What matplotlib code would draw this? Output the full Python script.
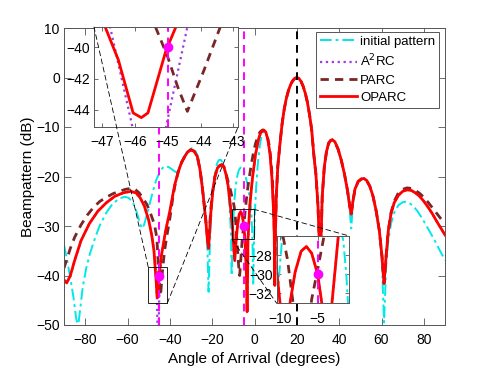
import matplotlib
matplotlib.use('Agg')
from matplotlib import pyplot as plt
from matplotlib.patches import Rectangle, ConnectionPatch

plt.rcParams['font.family'] = ['Liberation Sans', 'DejaVu Sans']
plt.rcParams['font.size'] = 10

# --- data: (angle in degrees, level in dB) ---
initial_pts = [
    (-90, -33.8), (-88.5, -37), (-87, -40.5), (-85.5, -44.5), (-84.3, -48.5), (-83.4, -50.5),
    (-82.4, -47), (-81.2, -42.5), (-79.5, -38.5), (-77.7, -35.5), (-75, -32), (-73, -29.8),
    (-70, -27.3), (-67, -25.5), (-64, -24.5), (-61.5, -24.1), (-59.5, -24.3), (-57.5, -25.2),
    (-55.8, -27), (-54.3, -29.2), (-53.2, -30.5), (-52.2, -29.8), (-51, -28), (-49.5, -25.5),
    (-48, -23), (-46.5, -20.8), (-45, -19.3), (-43.5, -18.3), (-42.2, -17.9), (-40.5, -18.1),
    (-38.5, -18.7), (-37.2, -19.1), (-36.3, -19.0), (-35, -17.8), (-33.5, -16.2), (-32, -15.1),
    (-30.8, -14.5), (-29.6, -14.3), (-28.3, -14.6), (-27, -15.6), (-25.8, -17.8), (-24.7, -21.2),
    (-23.7, -25.5), (-22.8, -30.5), (-22.2, -35.5), (-21.7, -43.3), (-21.2, -35.5), (-20.6, -29),
    (-19.8, -24), (-18.8, -19.8), (-17.8, -17.5), (-16.9, -16.7), (-16, -16.6), (-15, -17.2),
    (-14, -18.6), (-13, -20.8), (-12.2, -23.8), (-11.5, -28), (-11.1, -32), (-10.8, -40),
    (-10.4, -33), (-9.7, -26), (-9, -22.3), (-8.2, -20), (-7.4, -18.7), (-6.6, -18.2),
    (-5.8, -18.3), (-5, -18.9), (-4.2, -20), (-3.4, -21.5), (-2.6, -23.5), (-2, -25),
    (-1.6, -26.5), (-1.2, -30), (-0.9, -34), (-0.6, -42), (-0.3, -34), (0.1, -28), (0.8, -22),
    (1.6, -17.2), (2.5, -13.8), (3.4, -11.6), (4.3, -10.8), (5.3, -11.1), (6.3, -12.6),
    (7.3, -15.3), (8.2, -20), (8.9, -26), (9.3, -31), (9.6, -42), (9.9, -31), (10.3, -24),
    (11, -18), (12, -13.5), (13, -9.5), (14, -6.5), (15, -4.3), (16, -2.7), (17, -1.5),
    (18, -0.7), (19, -0.2), (20, 0), (21, -0.2), (22, -0.8), (23, -1.8), (24, -3.2), (25, -5.0),
    (26, -7.5), (27, -10.5), (28, -15.5), (29, -19.5), (30, -26), (30.6, -33), (31, -45),
    (31.4, -33), (32, -24), (33, -18), (34, -15), (35, -13.3), (36, -12.7), (36.8, -12.6),
    (38, -13), (39.5, -14.5), (41, -16.7), (42.5, -19.5), (44, -23.5), (45, -27), (45.7, -30.5),
    (46.4, -26), (47.5, -22.5), (49, -21), (50.5, -20.5), (51.7, -20.4), (53, -20.8), (54.5, -22),
    (56, -24), (57.5, -27.2), (59, -31.5), (60.2, -37.5), (61.2, -49.5), (62.2, -38), (63.2, -33),
    (64.5, -29.5), (66, -27.3), (68, -25.8), (70, -25.2), (71.4, -25.1), (73, -25.3), (75, -26),
    (77, -27), (79, -28.3), (81, -29.8), (83, -31.3), (85, -32.8), (87, -34.5), (88.5, -35.7),
    (90, -36.9)]

a2rc_pts = [
    (-90, -40.9), (-88.7, -41.5), (-87, -40.0), (-85, -37.0), (-82, -33.0), (-78, -29.5),
    (-74, -27.0), (-70, -25.3), (-66, -24.0), (-62, -23.3), (-58.5, -23.0), (-56, -23.3),
    (-54, -24.3), (-52, -26.0), (-50, -28.8), (-48.5, -32.0), (-47.5, -34.8), (-46.75, -38.7),
    (-46.07, -45.1), (-45.55, -58), (-45.05, -45.1), (-44.4, -38.7), (-43.5, -34.8), (-42, -31),
    (-41, -29), (-40, -27), (-38.5, -23.5), (-37.5, -21.4), (-36, -19), (-34.5, -17.2),
    (-33, -16), (-31.5, -15), (-30, -14.6), (-28.5, -14.9), (-27, -16), (-25.8, -18.5),
    (-24.7, -22), (-23.7, -26), (-22.8, -30), (-22.2, -33), (-21.7, -34.5), (-21.2, -31),
    (-20.5, -26.5), (-19.7, -23), (-18.7, -20), (-17.5, -18.3), (-16.3, -17.7), (-15.4, -17.6),
    (-14.5, -18), (-13.5, -19.5), (-12.5, -21.8), (-11.5, -25.5), (-10.8, -28.5), (-10.4, -29.9),
    (-10.0, -33), (-9.35, -37), (-8.67, -33), (-8, -29.8), (-7.2, -27.6), (-6.5, -27.1),
    (-5.8, -27.8), (-5, -30), (-4.46, -33), (-3.8, -40), (-3.5, -47.3), (-3.2, -38), (-3.1, -33),
    (-2.26, -26), (-1, -20.5), (0.5, -15.5), (2, -12.3), (3, -11.1), (4.3, -10.6), (5.3, -11),
    (6.3, -12.5), (7.3, -15.3), (8.2, -20), (8.9, -26), (9.3, -31), (9.6, -42), (9.9, -31),
    (10.3, -24), (11, -18), (12, -13.5), (13, -9.5), (14, -6.5), (15, -4.3), (16, -2.7),
    (17, -1.5), (18, -0.7), (19, -0.2), (20, 0), (21, -0.2), (22, -0.8), (23, -1.8), (24, -3.2),
    (25, -5.0), (26, -7.5), (27, -10.5), (28, -15.5), (29, -19.5), (30, -26), (30.6, -33),
    (31, -45), (31.4, -33), (32, -24), (33, -18), (34, -15), (35, -13.3), (36, -12.7),
    (36.8, -12.6), (38, -13), (39.5, -14.5), (41, -16.7), (42.5, -19.5), (44, -23), (45, -26),
    (45.7, -27.6), (46.5, -25), (47.5, -22.5), (49, -21), (50.5, -20.5), (51.7, -20.4),
    (53, -20.8), (54.5, -22), (56, -24), (57.5, -27), (59, -31), (60.2, -36), (61.2, -41.6),
    (62.2, -36), (63.2, -31), (64.5, -27.5), (66, -25.3), (68, -23.8), (70, -23), (72, -22.7),
    (74, -22.8), (76, -23.3), (78, -24), (80, -25), (82, -26.2), (84, -27.5), (86, -29),
    (88, -30.4), (90, -31.8)]

parc_pts = [
    (-90, -38.5), (-88.5, -36.5), (-87, -34.5), (-85, -32.3), (-82, -29.8), (-79, -27.8),
    (-76, -26.2), (-73, -25), (-70, -24.2), (-67, -23.5), (-64, -23), (-61, -22.6),
    (-58.5, -22.4), (-56.4, -22.6), (-54.5, -23.3), (-52.5, -24.5), (-50.9, -25.6), (-49.5, -27),
    (-48, -28.8), (-47, -30.3), (-46.1, -32.5), (-45.37, -38.7), (-45, -40.6), (-44.7, -42.5),
    (-44.4, -44.1), (-43.9, -41.5), (-43.4, -38.7), (-42.5, -35), (-41.4, -32), (-40, -28.5),
    (-38.5, -24), (-37.5, -21.6), (-36, -19), (-34.5, -17.2), (-33, -16), (-31.5, -15),
    (-30, -14.6), (-28.5, -14.9), (-27, -16), (-25.8, -18.5), (-24.7, -22), (-23.7, -26),
    (-22.8, -29.5), (-22.2, -32), (-21.7, -33), (-21.2, -30), (-20.5, -26), (-19.7, -22.8),
    (-18.7, -20), (-17.5, -18.3), (-16.3, -17.8), (-15.4, -17.7), (-14.5, -18), (-13.7, -19),
    (-12.8, -20.5), (-12, -21.8), (-11.2, -23), (-10.6, -24.2), (-10, -25.2), (-9.56, -26.2),
    (-9, -28.5), (-8.3, -32.8), (-7.5, -38), (-7.0, -40), (-6.5, -37), (-5.79, -32.6),
    (-5, -29.5), (-4.25, -26.4), (-3.5, -23.3), (-2.5, -20.3), (-1.5, -17.5), (-0.5, -15.2),
    (0.5, -13.3), (1.5, -12), (2.6, -11), (3.8, -10.6), (5, -10.9), (6, -11.8), (7, -13.8),
    (7.8, -16.8), (8.5, -21), (9, -26), (9.35, -31), (9.6, -40), (9.9, -31), (10.3, -24),
    (11, -18), (12, -13.5), (13, -9.5), (14, -6.5), (15, -4.3), (16, -2.7), (17, -1.5),
    (18, -0.7), (19, -0.2), (20, 0), (21, -0.2), (22, -0.8), (23, -1.8), (24, -3.2), (25, -5.0),
    (26, -7.5), (27, -10.5), (28, -15.5), (29, -19.5), (30, -26), (30.6, -33), (31, -45),
    (31.4, -33), (32, -24), (33, -18), (34, -15), (35, -13.3), (36, -12.7), (36.8, -12.6),
    (38, -13), (39.5, -14.5), (41, -16.7), (42.5, -19.5), (44, -23), (45, -26), (45.7, -27.6),
    (46.5, -25), (47.5, -22.5), (49, -21), (50.5, -20.5), (51.7, -20.4), (53, -20.8),
    (54.5, -22), (56, -24), (57.5, -27), (59, -31), (60.2, -36), (61.2, -41.6), (62.2, -36),
    (63.2, -31), (64.5, -27.3), (66, -25), (68, -23.3), (70, -22.6), (72, -22.3), (74, -22.4),
    (76, -22.8), (78, -23.4), (80, -24.2), (82, -25.2), (84, -26.3), (86, -27.4), (88, -28.5),
    (90, -29.5)]

oparc_pts = [
    (-90, -40.9), (-88.7, -41.5), (-87, -40.0), (-85, -37.0), (-82, -33.0), (-78, -29.5),
    (-74, -27.0), (-70, -25.3), (-66, -24.0), (-62, -23.3), (-58.5, -23.0), (-56, -23.3),
    (-54, -24.3), (-52, -26.0), (-50, -28.8), (-48.5, -32.0), (-47.5, -35.0), (-46.9, -38.7),
    (-46.5, -40.8), (-46.05, -44.2), (-45.8, -44.5), (-45.6, -44.2), (-45.05, -40.2),
    (-44.75, -38.7), (-44, -36), (-43, -33.5), (-42, -31), (-41, -29), (-40, -27), (-38.5, -23.5),
    (-37.5, -21.4), (-36, -19), (-34.5, -17.2), (-33, -16), (-31.5, -15), (-30, -14.6),
    (-28.5, -14.9), (-27, -16), (-25.8, -18.5), (-24.7, -22), (-23.7, -26), (-22.8, -30),
    (-22.2, -33), (-21.7, -34.5), (-21.2, -31), (-20.5, -26.5), (-19.7, -23), (-18.7, -20),
    (-17.5, -18.3), (-16.3, -17.7), (-15.4, -17.6), (-14.5, -18), (-13.5, -19.5), (-12.5, -21.8),
    (-11.5, -25.5), (-10.8, -28.5), (-10.4, -29.9), (-10.0, -33), (-9.35, -37), (-8.67, -33),
    (-8, -29.8), (-7.2, -27.6), (-6.5, -27.1), (-5.8, -27.8), (-5, -30), (-4.46, -33),
    (-3.8, -40), (-3.5, -47.3), (-3.2, -38), (-3.1, -33), (-2.26, -26), (-1, -20.5),
    (0.5, -15.5), (2, -12.3), (3, -11.1), (4.3, -10.6), (5.3, -11), (6.3, -12.5), (7.3, -15.3),
    (8.2, -20), (8.9, -26), (9.3, -31), (9.6, -42), (9.9, -31), (10.3, -24), (11, -18),
    (12, -13.5), (13, -9.5), (14, -6.5), (15, -4.3), (16, -2.7), (17, -1.5), (18, -0.7),
    (19, -0.2), (20, 0), (21, -0.2), (22, -0.8), (23, -1.8), (24, -3.2), (25, -5.0), (26, -7.5),
    (27, -10.5), (28, -15.5), (29, -19.5), (30, -26), (30.6, -33), (31, -45), (31.4, -33),
    (32, -24), (33, -18), (34, -15), (35, -13.3), (36, -12.7), (36.8, -12.6), (38, -13),
    (39.5, -14.5), (41, -16.7), (42.5, -19.5), (44, -23), (45, -26), (45.7, -27.6), (46.5, -25),
    (47.5, -22.5), (49, -21), (50.5, -20.5), (51.7, -20.4), (53, -20.8), (54.5, -22), (56, -24),
    (57.5, -27), (59, -31), (60.2, -36), (61.2, -41.6), (62.2, -36), (63.2, -31), (64.5, -27.5),
    (66, -25.3), (68, -23.8), (70, -23), (72, -22.7), (74, -22.8), (76, -23.3), (78, -24),
    (80, -25), (82, -26.2), (84, -27.5), (86, -29), (88, -30.4), (90, -31.8)]

target_angle = 20
constraint_angles = [-45, -5]
constraint_levels = [-40, -30]

# zoom windows (xlim, ylim) and the boxes drawn on the main plot (x, y, w, h)
zoom1_xlim, zoom1_ylim = (-47.24, -42.86), (-45.1, -38.7)
zoom2_xlim, zoom2_ylim = (-10.44, -0.8), (-33.05, -26.0)
box1 = (-50.2, -45.6, 9.0, 7.3)
box2 = (-10.6, -32.7, 10.2, 6.1)


def drawCurves(ax):
    x, y = zip(*initial_pts)
    ax.plot(x, y, color='#00E8E8', lw=1.4, ls=(0, (6, 2, 1.5, 2)), label='initial pattern')
    x, y = zip(*a2rc_pts)
    ax.plot(x, y, ':', color='#9B3CE6', lw=1.6, label='A$^2$RC')
    x, y = zip(*parc_pts)
    ax.plot(x, y, '--', color='#7A2626', lw=2, dashes=(3, 2.2), label='PARC')
    x, y = zip(*oparc_pts)
    ax.plot(x, y, '-', color='red', lw=2, label='OPARC')


def styleAxes(ax, ticklen=4):
    for s in ax.spines.values():
        s.set_color('#555555')
        s.set_linewidth(0.7)
    ax.tick_params(direction='in', top=True, right=True, length=ticklen,
                   width=0.6, color='#555555', labelsize=10)
    ax.tick_params(axis='x', pad=6)
    ax.tick_params(axis='y', pad=3)


fig = plt.figure(figsize=(4.91, 3.69), dpi=100)
ax = fig.add_axes([64 / 491, 1 - 325 / 369, 381 / 491, 297 / 369])
drawCurves(ax)
ax.axvline(target_angle, color='black', ls='--', lw=1.4, dashes=(4, 3))
for a in constraint_angles:
    ax.axvline(a, color='magenta', ls='--', lw=1.4, dashes=(4, 3))
ax.plot(constraint_angles, constraint_levels, 'o', color='magenta', ms=6)
ax.set_xlim(-90, 90)
ax.set_ylim(-50, 10)
ax.set_xticks(range(-80, 81, 20))
ax.set_yticks(range(-50, 11, 10))
ax.set_xlabel('Angle of Arrival (degrees)', fontsize=11, labelpad=3)
ax.set_ylabel('Beampattern (dB)', fontsize=11, labelpad=1)
styleAxes(ax, 5)
leg = ax.legend(loc='upper right', bbox_to_anchor=(0.985, 0.988), borderaxespad=0,
                fancybox=False, framealpha=1, edgecolor='#555555', fontsize=9.5,
                handlelength=2.8, handletextpad=0.25, labelspacing=0.38,
                borderpad=0.3)
leg.get_frame().set_linewidth(0.7)

for bx in (box1, box2):
    ax.add_patch(Rectangle(bx[:2], bx[2], bx[3], fill=False, ec='black', lw=0.6, zorder=5))

# inset 1: null at -45 degrees
ax1 = fig.add_axes([94 / 491, 1 - 127 / 369, 144 / 491, 100 / 369])
drawCurves(ax1)
ax1.axvline(constraint_angles[0], color='magenta', ls='--', lw=1.4, dashes=(4, 3))
ax1.plot(constraint_angles[0], constraint_levels[0], 'o', color='magenta', ms=6)
ax1.set_xlim(*zoom1_xlim)
ax1.set_ylim(*zoom1_ylim)
ax1.set_xticks([-47, -46, -45, -44, -43])
ax1.set_yticks([-44, -42, -40])
styleAxes(ax1, 3)

# inset 2: controlled level at -5 degrees
ax2 = fig.add_axes([276.7 / 491, 1 - 303.3 / 369, 72.6 / 491, 67.3 / 369])
drawCurves(ax2)
ax2.axvline(constraint_angles[1], color='magenta', ls='--', lw=1.4, dashes=(4, 3))
ax2.plot(constraint_angles[1], constraint_levels[1], 'o', color='magenta', ms=6)
ax2.set_xlim(*zoom2_xlim)
ax2.set_ylim(*zoom2_ylim)
ax2.set_xticks([-10, -5])
ax2.set_yticks([-32, -30, -28])
styleAxes(ax2, 3)

# connector lines from the boxes to the insets
links = [((box1[0], box1[1] + box1[3]), ax1, (0, 1)),
         ((box1[0] + box1[2], box1[1]), ax1, (1, 0)),
         ((box2[0] + box2[2], box2[1] + box2[3]), ax2, (1, 1)),
         ((box2[0], box2[1]), ax2, (0, 0))]
for pt, axi, corner in links:
    con = ConnectionPatch(xyA=pt, coordsA=ax.transData, xyB=corner, coordsB=axi.transAxes,
                          color='black', lw=0.6, ls=(0, (6, 4)))
    fig.add_artist(con)

fig.savefig('out.png', dpi=100)
